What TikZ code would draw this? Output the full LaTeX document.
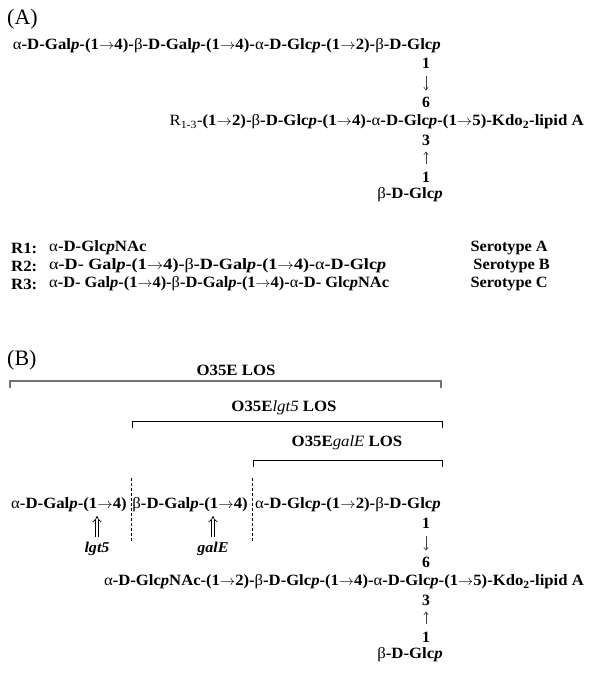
\documentclass[tikz,border=0pt]{standalone}
\usepackage{fontspec}
\usepackage{graphicx}
\setmainfont{Liberation Serif}
\usetikzlibrary{arrows.meta}
\newcommand{\ga}{{\mdseries α}}
\newcommand{\gb}{{\mdseries β}}
\newcommand{\pp}{\textit{p}}
\newcommand{\ar}{\ensuremath{\rightarrow}}
\newcommand{\T}[2][1.07]{\scalebox{#1}[1]{#2}}
\begin{document}
\begin{tikzpicture}[x=1pt,y=-1pt,
  every node/.style={inner sep=0pt},
  txt/.style={font=\fontsize{15.7}{18}\selectfont\bfseries},
  lab/.style={font=\fontsize{22}{24}\selectfont},
  arr/.style={-{Straight Barb[length=3pt,width=4.5pt]}, line width=0.6pt, draw=black!75},
  dbl/.style={-{Implies}, double, double distance=2.6pt, line width=0.7pt},
  brk/.style={line width=1pt, black},
  sep/.style={dashed, dash pattern=on 3pt off 2pt, line width=1pt}]
\useasboundingbox (0,0) rectangle (597,673);

% ---------- (A) ----------
\node[lab, anchor=west] (A) at (7,19) {(A)};
\node[txt, anchor=east] (l1) at (441,46) {\T{\ga-D-Gal\pp-(1\ar4)-\gb-D-Gal\pp-(1\ar4)-\ga-D-Glc\pp-(1\ar2)-\gb-D-Glc\pp}};
\node[txt] (a1) at (426,63) {1};
\node[txt] (a6) at (426,102) {6};
\node[txt, anchor=east] (mA) at (584,122) {\T{\mdseries R\textsubscript{1-3}-\bfseries(1\ar2)-\gb-D-Glc\pp-(1\ar4)-\ga-D-Glc\pp-(1\ar5)-Kdo\textsubscript{2}-lipid A}};
\node[txt] (a3) at (426,140) {3};
\node[txt] (a1b) at (426,177) {1};
\node[txt] (gA) at (410,195) {\T{\gb-D-Glc\pp}};
\draw[arr, shorten <=8pt, shorten >=6pt] (a1) -- (a6);
\draw[arr, shorten <=8pt, shorten >=6pt] (a1b) -- (a3);

\node[txt, anchor=west] (r1) at (11,248) {\T{R1:}};
\node[txt, anchor=west] (r1t) at (49,248) {\T{\ga-D-Glc\pp NAc}};
\node[txt, anchor=east] (s1) at (548,248) {\T[1.04]{Serotype A}};
\node[txt, anchor=west] (r2) at (11,266) {\T{R2:}};
\node[txt, anchor=west] (r2t) at (49,266) {\T[1.155]{\ga-D- Gal\pp-(1\ar4)-\gb-D-Gal\pp-(1\ar4)-\ga-D-Glc\pp}};
\node[txt, anchor=east] (s2) at (550,266) {\T[1.04]{Serotype B}};
\node[txt, anchor=west] (r3) at (11,284) {\T{R3:}};
\node[txt, anchor=west] (r3t) at (49,284) {\T[1.045]{\ga-D- Gal\pp-(1\ar4)-\gb-D-Gal\pp-(1\ar4)-\ga-D- Glc\pp NAc}};
\node[txt, anchor=east] (s3) at (548,284) {\T[1.04]{Serotype C}};

% ---------- (B) ----------
\node[lab, anchor=west] (B) at (7,360) {(B)};
\node[txt] (los1) at (236,370) {\T{O35E LOS}};
\draw[line width=2pt, black!55] (9.5,388) -- (9.5,381) -- (441,381) -- (441,388);
\node[txt] (los2) at (284,408) {\T{O35E\textit{\mdseries lgt5} LOS}};
\draw[brk] (132.5,428) -- (132.5,421) -- (442,421) -- (442,428);
\node[txt] (los3) at (347,443) {\T{O35E\textit{\mdseries galE} LOS}};
\draw[brk] (253,467) -- (253,460) -- (442,460) -- (442,467);

\draw[sep] (131,478) -- (131,542);
\draw[sep] (252,478) -- (252,542);

\node[txt, anchor=east] (c1) at (127,505) {\T{\ga-D-Gal\pp-(1\ar4)}};
\node[txt, anchor=east] (c2) at (248,505) {\T{\gb-D-Gal\pp-(1\ar4)}};
\node[txt, anchor=east] (c3) at (441,505) {\T{\ga-D-Glc\pp-(1\ar2)-\gb-D-Glc\pp}};

\node[txt, font=\fontsize{15}{17}\selectfont\bfseries\itshape] (g1) at (97,549) {\T{lgt5}};
\node[txt, font=\fontsize{15}{17}\selectfont\bfseries\itshape] (g2) at (213,549) {\T{galE}};
\coordinate (t1) at (97,516);
\coordinate (t2) at (213,516);
\draw[dbl, shorten <=5pt] (g1) -- (t1);
\draw[dbl, shorten <=5pt] (g2) -- (t2);

\node[txt] (b1) at (426,523) {1};
\node[txt] (b6) at (426,562) {6};
\node[txt, anchor=east] (mB) at (584,582) {\T[1.06]{\ga-D-Glc\pp NAc-(1\ar2)-\gb-D-Glc\pp-(1\ar4)-\ga-D-Glc\pp-(1\ar5)-Kdo\textsubscript{2}-lipid A}};
\node[txt] (b3) at (426,600) {3};
\node[txt] (b1b) at (426,637) {1};
\node[txt] (gB) at (410,655) {\T{\gb-D-Glc\pp}};
\draw[arr, shorten <=8pt, shorten >=6pt] (b1) -- (b6);
\draw[arr, shorten <=8pt, shorten >=6pt] (b1b) -- (b3);
\end{tikzpicture}
\end{document}
